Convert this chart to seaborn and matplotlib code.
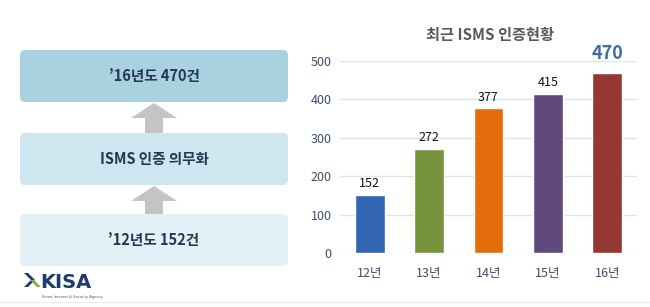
import matplotlib
matplotlib.use("Agg")
import matplotlib.pyplot as plt
import seaborn as sns
import pandas as pd
from matplotlib.patches import FancyBboxPatch, Polygon

# ---- data ----
categories = ["12년", "13년", "14년", "15년", "16년"]
values = [152, 272, 377, 415, 470]
bar_colors = ["#3366B0", "#77933C", "#E46C0A", "#604A7B", "#953735"]
y_ticks = [0, 100, 200, 300, 400, 500]
title = "최근 ISMS 인증현황"
box_texts = ["’16년도 470건", "ISMS 인증 의무화", "’12년도 152건"]

sns.set_theme(style="white")
plt.rcParams['font.family'] = ['Noto Sans CJK KR', 'DejaVu Sans']

fig = plt.figure(figsize=(6.5, 3.07), dpi=100)
W, H = 650, 307

# ---- left panel (pixel-coordinate overlay) ----
ov = fig.add_axes([0, 0, 1, 1])
ov.set_xlim(0, W)
ov.set_ylim(H, 0)
ov.axis("off")

box_specs = [(50, 102, "#A8D2DF"), (133, 185, "#CCE7EF"), (214, 266, "#E2F1F6")]
for (y0, y1, col), txt in zip(box_specs, box_texts):
    ov.add_patch(FancyBboxPatch((20 + 5, y0 + 5), 268 - 10, (y1 - y0) - 10,
                                boxstyle="round,pad=5", fc=col, ec="none"))
    ov.text(154, (y0 + y1) / 2, txt, ha="center", va="center",
            fontsize=10.5, fontweight="bold", color="#243650")

# arrows
for top, bot in [(103, 133), (186, 214)]:
    ov.add_patch(Polygon([(145, bot), (145, top + 15), (131, top + 15),
                          (154, top), (177, top + 15), (163, top + 15), (163, bot)],
                         closed=True, fc="#C4C4C4", ec="none"))

# KISA logo
ov.add_patch(Polygon([(24, 273), (31, 280), (24, 287), (28, 287), (35, 280), (28, 273)],
                     closed=True, fc="#1F3A6E", ec="none"))
ov.add_patch(Polygon([(30, 280), (37, 287), (41, 287), (34, 280)],
                     closed=True, fc="#7AB648", ec="none"))
ov.text(40, 282, "KISA", ha="left", va="center", fontsize=14, fontweight="bold",
        color="#1F3A6E", family=["DejaVu Sans"])
ov.text(42, 297, "Korea Internet & Security Agency", ha="left", va="center",
        fontsize=2.6, color="#555555", family=["DejaVu Sans"])
ov.plot([0, W], [302, 302], color="#EEEEEE", lw=1)

# ---- bar chart ----
ax = fig.add_axes([340 / W, 1 - 253 / H, (637 - 340) / W, (253 - 61) / H])
df = pd.DataFrame({"year": categories, "count": values})
sns.barplot(data=df, x="year", y="count", hue="year", palette=bar_colors,
            width=0.5, legend=False, ax=ax, saturation=1)
ax.set_xlim(-0.5, 4.5)
ax.set_ylim(0, 500)
ax.set_yticks(y_ticks)
ax.set_yticklabels([str(t) for t in y_ticks])
ax.grid(axis="y", color="#DCE4EC", lw=1)
ax.set_axisbelow(True)
for s in ax.spines.values():
    s.set_visible(False)
ax.set_xlabel("")
ax.set_ylabel("")
ax.tick_params(axis="y", colors="#3B4E6B", labelsize=9, pad=6, length=0)
ax.tick_params(axis="x", colors="#3B4E6B", labelsize=9, pad=10, length=0)

for i, v in enumerate(values):
    if i == len(values) - 1:
        ax.text(i, v + 26, str(v), ha="center", va="bottom", fontsize=13,
                fontweight="bold", color="#3E6EA8", clip_on=False)
    else:
        ax.text(i, v + 12, str(v), ha="center", va="bottom", fontsize=9,
                color="#111111")

fig.text(490 / W, 1 - 35 / H, title, ha="center", va="center", fontsize=11,
         fontweight="bold", color="#595959")

fig.savefig("out.png", dpi=100)
